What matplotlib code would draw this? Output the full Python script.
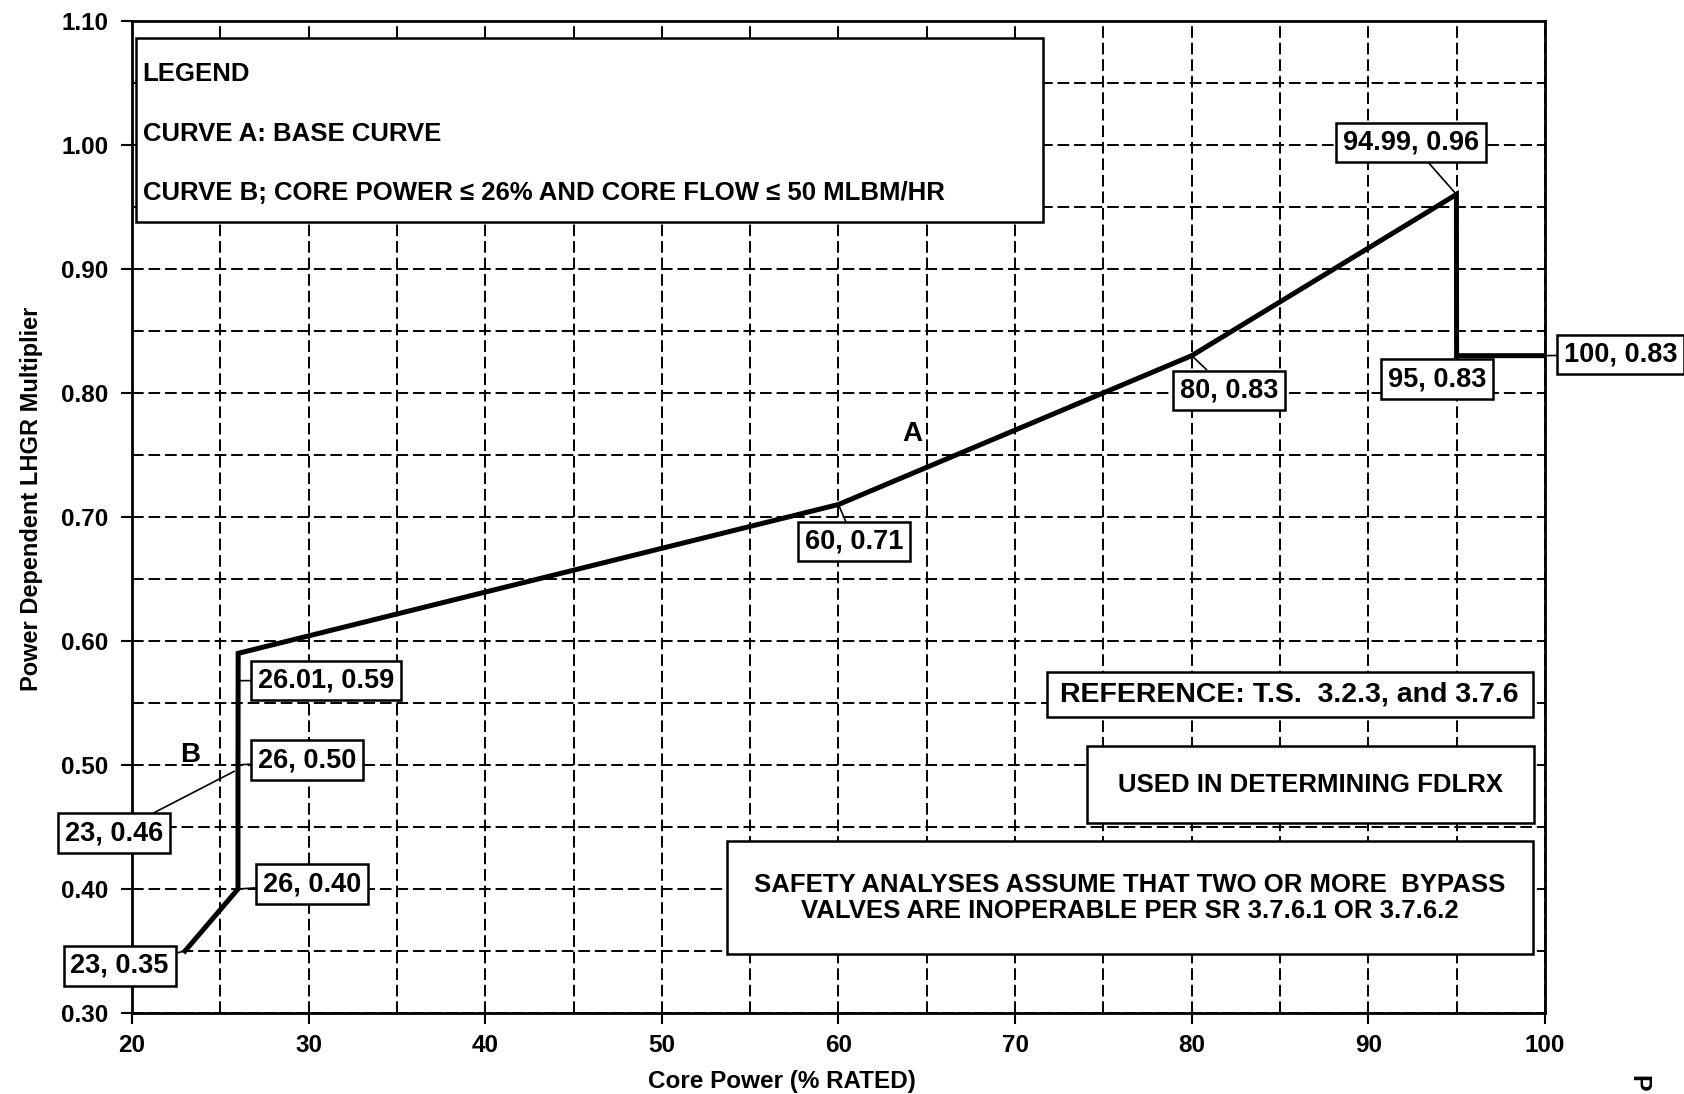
import numpy as np
import matplotlib.pyplot as plt
from matplotlib.patches import Rectangle

plt.rcParams['font.family'] = ['Liberation Sans', 'DejaVu Sans']
plt.rcParams['font.weight'] = 'bold'

# curve B then curve A
core_power = [23, 26, 26, 26.01, 60, 80, 94.99, 95, 100]
lhgr_mult = [0.35, 0.40, 0.50, 0.59, 0.71, 0.83, 0.96, 0.83, 0.83]

# point labels: text, point it refers to, where the box sits
lbl_text = ['94.99, 0.96', '95, 0.83', '100, 0.83', '80, 0.83', '60, 0.71',
            '26.01, 0.59', '26, 0.50', '23, 0.46', '26, 0.40', '23, 0.35']
lbl_pt = [(94.99, 0.96), (95, 0.83), (100, 0.83), (80, 0.83), (60, 0.71),
          (26.01, 0.568), (26, 0.50), (25.8, 0.495), (26, 0.40), (23, 0.35)]
lbl_pos = [(92.4, 1.002), (93.9, 0.811), (104.3, 0.831), (82.1, 0.802), (60.9, 0.680),
           (31.0, 0.568), (29.9, 0.504), (19.0, 0.445), (30.2, 0.404), (19.3, 0.338)]

xticks = np.arange(20, 101, 10)
yticks = np.arange(0.30, 1.101, 0.10)

fig = plt.figure(figsize=(16.84, 10.94), dpi=100)
ax = fig.add_axes([0.0784, 0.074, 0.839, 0.907])

ax.set_xlim(20, 100)
ax.set_ylim(0.30, 1.10)
ax.set_xticks(xticks)
ax.set_yticks(yticks)
ax.set_xticklabels([str(v) for v in xticks], fontsize=17.5, fontweight='bold')
ax.set_yticklabels(['%.2f' % v for v in yticks], fontsize=17.5, fontweight='bold')
ax.set_xticks(np.arange(25, 100, 10), minor=True)
ax.set_yticks(np.arange(0.35, 1.10, 0.10), minor=True)
ax.tick_params(which='major', direction='out', length=8, width=1.5)
ax.tick_params(axis='x', pad=7)
ax.tick_params(axis='y', pad=9)
ax.tick_params(which='minor', length=0)
ax.grid(which='both', color='black', linestyle=(0, (6, 2.5)), linewidth=1.4)
for s in ax.spines.values():
    s.set_linewidth(2)

ax.set_xlabel('Core Power (% RATED)', fontsize=17.5, fontweight='bold')
ax.xaxis.set_label_coords(0.46, -0.057)
ax.set_ylabel('Power Dependent LHGR Multiplier', fontsize=17, fontweight='bold')
ax.yaxis.set_label_coords(-0.063, 0.518)

ax.plot(core_power, lhgr_mult, color='black', linewidth=3.6, solid_joinstyle='miter', zorder=4)

box = dict(boxstyle='square,pad=0.25', fc='white', ec='black', lw=1.8)
for t, p, q in zip(lbl_text, lbl_pt, lbl_pos):
    ax.annotate(t, xy=p, xytext=q, ha='center', va='center', fontsize=19.5, fontweight='bold',
                bbox=box, annotation_clip=False, zorder=6,
                arrowprops=dict(arrowstyle='-', color='black', lw=1.2, shrinkA=0, shrinkB=0))

ax.text(64.2, 0.767, 'A', fontsize=20, fontweight='bold', ha='center', va='center')
ax.text(23.3, 0.508, 'B', fontsize=20, fontweight='bold', ha='center', va='center')

# legend box
ax.add_patch(Rectangle((20.2, 0.938), 51.4, 0.148, fc='white', ec='black', lw=1.8, zorder=5))
ax.text(20.6, 1.057, 'LEGEND', fontsize=18.5, fontweight='bold', va='center', zorder=6)
ax.text(20.6, 1.009, 'CURVE A: BASE CURVE', fontsize=18.5, fontweight='bold', va='center', zorder=6)
ax.text(20.6, 0.961, 'CURVE B; CORE POWER \u2264 26% AND CORE FLOW \u2264 50 MLBM/HR',
        fontsize=18.5, fontweight='bold', va='center', zorder=6)

# note boxes
ax.add_patch(Rectangle((71.8, 0.539), 27.5, 0.036, fc='white', ec='black', lw=1.8, zorder=5))
ax.text(85.55, 0.557, 'REFERENCE: T.S.  3.2.3, and 3.7.6', fontsize=20.5, fontweight='bold',
        ha='center', va='center', zorder=6)
ax.add_patch(Rectangle((74.1, 0.453), 25.3, 0.062, fc='white', ec='black', lw=1.8, zorder=5))
ax.text(86.75, 0.484, 'USED IN DETERMINING FDLRX', fontsize=18.5, fontweight='bold',
        ha='center', va='center', zorder=6)
ax.add_patch(Rectangle((53.7, 0.348), 45.6, 0.091, fc='white', ec='black', lw=1.8, zorder=5))
ax.text(76.5, 0.393, 'SAFETY ANALYSES ASSUME THAT TWO OR MORE  BYPASS\nVALVES ARE INOPERABLE PER SR 3.7.6.1 OR 3.7.6.2',
        fontsize=18.5, fontweight='bold', ha='center', va='center', linespacing=1.1, zorder=6)

fig.text(0.966, 0.002, 'P', fontsize=18, fontweight='bold', rotation=270, ha='left', va='bottom')

fig.savefig('out.png', dpi=100)
